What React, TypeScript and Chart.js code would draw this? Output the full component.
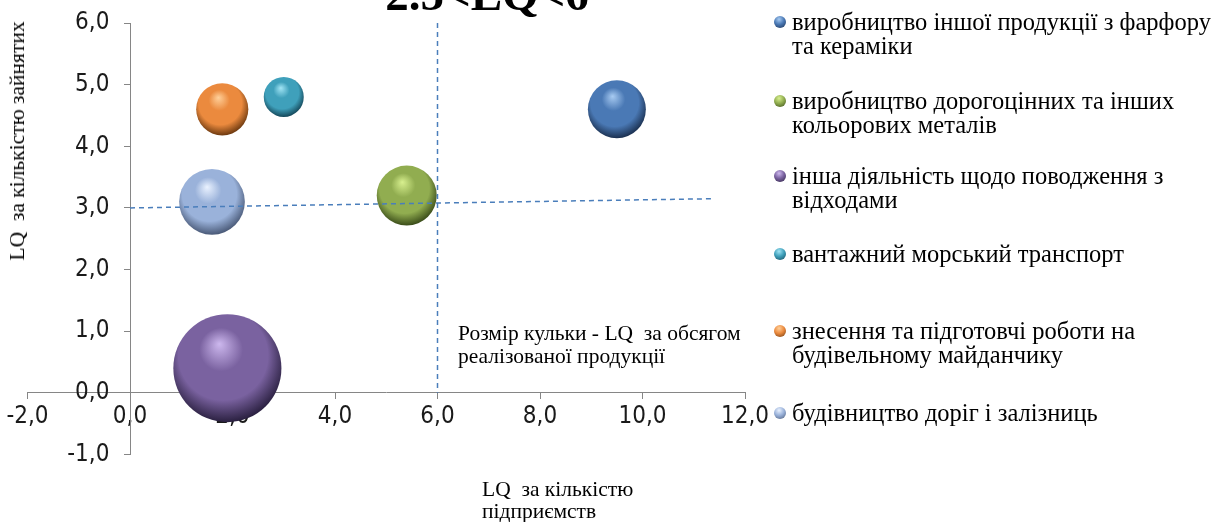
import React, { useEffect, useRef } from "react";
import { Chart, registerables } from "chart.js";

Chart.register(...registerables);

const categories = [
  "виробництво іншої продукції з фарфору та кераміки",
  "виробництво дорогоцінних та інших кольорових металів",
  "інша діяльність щодо поводження з відходами",
  "вантажний морський транспорт",
  "знесення та підготовчі роботи на будівельному майданчику",
  "будівництво доріг і залізниць",
];
const legendLines = [
  ["виробництво іншої продукції з фарфору", "та кераміки"],
  ["виробництво дорогоцінних та інших", "кольорових металів"],
  ["інша діяльність щодо поводження з", "відходами"],
  ["вантажний морський транспорт"],
  ["знесення та підготовчі роботи на", "будівельному майданчику"],
  ["будівництво доріг і залізниць"],
];
// LQ за кількістю підприємств
const xValues = [9.5, 5.4, 1.9, 3.0, 1.8, 1.6];
// LQ за кількістю зайнятих
const yValues = [4.6, 3.2, 0.4, 4.8, 4.6, 3.1];
// LQ за обсягом реалізованої продукції (bubble size)
const sizeValues = [2.1, 2.25, 7.3, 1.0, 1.7, 2.7];
const xTicks = [-2, 0, 2, 4, 6, 8, 10, 12];
const yTicks = [-1, 0, 1, 2, 3, 4, 5, 6];
const verticalLine = [
  { x: 6, y: 6 },
  { x: 6, y: 0 },
];
const horizontalLine = [
  { x: 0, y: 3.0 },
  { x: 11.4, y: 3.15 },
];

const baseColors = ["#4a79b5", "#91ad50", "#7a62a0", "#3fa0bb", "#eb8a3e", "#9ab2da"];
const lightColors = ["#a8cbf2", "#d8f08f", "#cdb8ee", "#a2e5f5", "#ffd09a", "#eaf2ff"];
const darkColors = ["#1b3050", "#3a4c19", "#2a2040", "#15485a", "#6e3a10", "#4a5a78"];
const legendTops = [22, 101, 176, 254, 331, 413];

const BUBBLE_SCALE = 20;
const fmt = (v: number) => v.toFixed(1).replace(".", ",");
const TARGET = { left: 27.5, right: 745, top: 23, bottom: 454.5 };

export default function App() {
  const ref = useRef<HTMLCanvasElement | null>(null);

  useEffect(() => {
    if (!ref.current) return;
    const gradientFor = (i: number) => (ctx: any) => {
      const chart = ctx.chart;
      const xs = chart.scales.x;
      const ys = chart.scales.y;
      if (!xs || !ys) return baseColors[i];
      const cx = xs.getPixelForValue(xValues[i]);
      const cy = ys.getPixelForValue(yValues[i]);
      const r = BUBBLE_SCALE * Math.sqrt(sizeValues[i]);
      if (!isFinite(cx) || !isFinite(cy)) return baseColors[i];
      const g = chart.ctx.createRadialGradient(
        cx - 0.15 * r,
        cy - 0.45 * r,
        0,
        cx - 0.05 * r,
        cy - 0.15 * r,
        1.15 * r
      );
      g.addColorStop(0, lightColors[i]);
      g.addColorStop(0.35, baseColors[i]);
      g.addColorStop(0.72, baseColors[i]);
      g.addColorStop(1, darkColors[i]);
      return g;
    };

    const bubbleSets = categories.map((name, i) => ({
      type: "bubble" as const,
      label: name,
      data: [{ x: xValues[i], y: yValues[i], r: BUBBLE_SCALE * Math.sqrt(sizeValues[i]) }],
      backgroundColor: gradientFor(i),
      borderWidth: 0,
      hoverRadius: 0,
      order: 2,
    }));

    const lineStyle = {
      type: "line" as const,
      borderColor: "#4a7ebb",
      borderWidth: 1.5,
      borderDash: [5, 4],
      pointRadius: 0,
      fill: false,
      showLine: true,
      order: 0,
    };

    const tickFont = { family: "'DejaVu Sans Condensed', 'DejaVu Sans', sans-serif", size: 24 };

    const opts: any = {
      animation: false,
      responsive: true,
      maintainAspectRatio: false,
      layout: {
        autoPadding: false,
        padding: { left: 27.5, right: 485, top: 23, bottom: 67.5 },
      },
      plugins: {
        legend: { display: false },
        tooltip: { enabled: false },
        title: { display: false },
      },
      scales: {
        x: {
          type: "linear",
          position: { y: 0 },
          min: -2,
          max: 12,
          afterBuildTicks: (s: any) => {
            s.ticks = xTicks.map((v) => ({ value: v }));
          },
          grid: {
            drawOnChartArea: false,
            drawTicks: true,
            tickLength: 6,
            color: "#868686",
          },
          border: { display: true, color: "#868686", width: 1 },
          ticks: {
            callback: (v: any) => fmt(Number(v)),
            color: "#1a1a1a",
            font: tickFont,
            padding: 4,
            maxRotation: 0,
            autoSkip: false,
          },
        },
        y: {
          type: "linear",
          position: { x: 0 },
          min: -1,
          max: 6,
          afterBuildTicks: (s: any) => {
            s.ticks = yTicks.map((v) => ({ value: v }));
          },
          grid: {
            drawOnChartArea: false,
            drawTicks: true,
            tickLength: 6,
            color: "#868686",
          },
          border: { display: true, color: "#868686", width: 1 },
          ticks: {
            // trailing figure space + space keeps the label clear of the axis line
            callback: (v: any) => fmt(Number(v)) + "\u2007 ",
            color: "#1a1a1a",
            font: tickFont,
            padding: 8,
            autoSkip: false,
          },
        },
      },
    };

    const chart = new Chart(ref.current, {
      type: "bubble",
      data: {
        datasets: [
          ...bubbleSets,
          { ...lineStyle, label: "v", data: verticalLine },
          { ...lineStyle, label: "h", data: horizontalLine },
        ] as any,
      },
      options: opts,
    });

    // fine adjustment of the padding so the axes land where the reference has them
    try {
      for (let k = 0; k < 4; k++) {
        const xs: any = chart.scales.x;
        const ys: any = chart.scales.y;
        const dl = TARGET.left - xs.getPixelForValue(-2);
        const dr = xs.getPixelForValue(12) - TARGET.right;
        const dt = TARGET.top - ys.getPixelForValue(6);
        const db = ys.getPixelForValue(-1) - TARGET.bottom;
        if (Math.abs(dl) + Math.abs(dt) + Math.abs(dr) + Math.abs(db) < 0.5) break;
        const p = { ...opts.layout.padding };
        p.left = Math.max(0, p.left + dl);
        p.top = Math.max(0, p.top + dt);
        p.right = Math.max(0, p.right + dr);
        p.bottom = Math.max(0, p.bottom + db);
        opts.layout.padding = p;
        chart.update();
      }
    } catch (e) {
      // keep the first layout if adjustment fails
    }

    return () => chart.destroy();
  }, []);

  const serif = "'Liberation Serif', 'Times New Roman', serif";

  return (
    <div
      style={{
        position: "absolute",
        left: 0,
        top: 0,
        width: 1230,
        height: 522,
        overflow: "hidden",
        background: "#ffffff",
        fontFamily: serif,
        color: "#000",
      }}
    >
      <canvas ref={ref} style={{ position: "absolute", left: 0, top: 0 }} />
      <div
        style={{
          position: "absolute",
          left: 487,
          top: -31,
          transform: "translateX(-50%)",
          fontWeight: "bold",
          fontSize: 47,
          lineHeight: "50px",
          whiteSpace: "nowrap",
        }}
      >
        2.5&lt;LQ&lt;6
      </div>
      <div
        style={{
          position: "absolute",
          left: 17,
          top: 141,
          transform: "translate(-50%, -50%) rotate(-90deg)",
          fontSize: 21.5,
          whiteSpace: "pre",
          lineHeight: "22px",
        }}
      >
        {"LQ  за кількістю зайнятих"}
      </div>
      <div
        style={{
          position: "absolute",
          left: 482,
          top: 478,
          fontSize: 21.5,
          lineHeight: "22px",
          whiteSpace: "pre",
        }}
      >
        {"LQ  за кількістю\nпідприємств"}
      </div>
      <div
        style={{
          position: "absolute",
          left: 458,
          top: 321.5,
          fontSize: 21.5,
          lineHeight: "23px",
          whiteSpace: "pre",
        }}
      >
        {"Розмір кульки - LQ  за обсягом\nреалізованої продукції"}
      </div>
      {legendLines.map((lines, i) => (
        <div
          key={i}
          style={{
            position: "absolute",
            left: 773,
            top: legendTops[i] - 12.25,
            fontSize: 24.5,
            lineHeight: "24.5px",
            whiteSpace: "nowrap",
          }}
        >
          <span
            style={{
              position: "absolute",
              left: 1,
              top: 6.25,
              width: 12,
              height: 12,
              borderRadius: "50%",
              background: `radial-gradient(circle at 42% 28%, ${lightColors[i]} 0%, ${baseColors[i]} 45%, ${darkColors[i]} 100%)`,
            }}
          />
          <div style={{ paddingLeft: 19 }}>
            {lines.map((l, j) => (
              <div key={j}>{l}</div>
            ))}
          </div>
        </div>
      ))}
    </div>
  );
}
